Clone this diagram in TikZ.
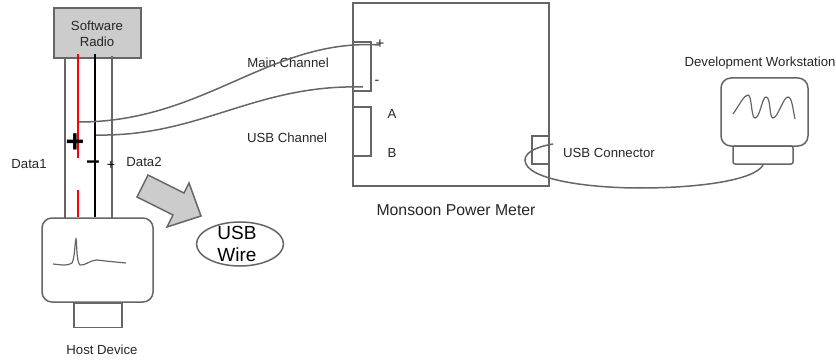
\documentclass[tikz,border=0pt]{standalone}
\usepackage{fontspec}
\setmainfont{Liberation Sans}
\usetikzlibrary{shapes.geometric,positioning,calc}
\definecolor{wiregray}{HTML}{666666}
\definecolor{boxgray}{HTML}{CCCCCC}
\tikzset{
  wire/.style={draw=wiregray, line width=1.5pt},
  panel/.style={rectangle, draw=wiregray, line width=1.5pt, inner sep=0pt},
  screen/.style={panel, rounded corners=10pt, fill=white},
  label/.style={inner sep=0pt, font=\fontsize{13.2}{15.5}\selectfont, align=center, text=black!85},
}
\begin{document}
\begin{tikzpicture}[x=1pt,y=-1pt]
  \useasboundingbox (0,0) rectangle (836,361);

  % radio and its four wires
  \coordinate (graytopA) at (65,58);
  \coordinate (graybotA) at (65,218);
  \coordinate (graytopB) at (112,56);
  \coordinate (graybotB) at (112,218);
  \coordinate (redtop) at (78,54);
  \coordinate (redmid) at (78,158);
  \coordinate (redlow) at (78,190);
  \coordinate (redbot) at (78,217);
  \coordinate (blacktop) at (95,54);
  \coordinate (blackbot) at (95,217);
  \node[panel, fill=boxgray, minimum width=87pt, minimum height=50pt] (radio) at (97.5,33) {};
  \node[label] (radiotext) at (97,34) {Software\\Radio};
  \draw[wire] (graytopA) -- (graybotA);
  \draw[wire] (graytopB) -- (graybotB);
  \draw[red, line width=1.7pt] (redtop) -- (redmid);
  \draw[red, line width=1.7pt] (redlow) -- (redbot);
  \draw[black, line width=1.7pt] (blacktop) -- (blackbot);

  % host device
  \node[screen, minimum width=111pt, minimum height=84pt] (host) at (97.5,260) {};
  \node[panel, minimum width=48pt, minimum height=24pt, below=0pt of host.south, xshift=0.5pt] (hostfoot) {};
  \node[label] (hostlabel) at (102,350) {Host Device};
  \draw[wire, line width=1.2pt] (53,264) .. controls (62,265) and (68,266) .. (72,263)
    .. controls (75,258) and (75,239) .. (76,239)
    .. controls (77,239) and (76,262) .. (80,265)
    .. controls (85,266) and (90,260) .. (97,260)
    .. controls (105,261) and (115,262) .. (126,263);

  % polarity marks
  \node[inner sep=0pt, font=\fontsize{32}{32}\bfseries\selectfont] (bigplus) at (75,143) {+};
  \node[inner sep=0pt, font=\fontsize{24}{24}\bfseries\selectfont] (bigminus) at (93,165) {–};
  \node[inner sep=0pt, font=\fontsize{14}{14}\selectfont] (smallplus) at (111,165) {+};
  \node[label] (dataA) at (29,164) {Data1};
  \node[label] (dataB) at (144,162) {Data2};

  % callout arrow
  \draw[wire, fill=boxgray, line join=miter] (148,175) -- (137,197) -- (173,215) -- (167,227)
    -- (201,216) -- (189,183) -- (184,193) -- cycle;
  \node[ellipse, draw=wiregray, line width=1.5pt, minimum width=87pt, minimum height=44pt, inner sep=0pt] (usbwire) at (240,244) {};
  \node[label, font=\fontsize{19}{22}\selectfont, text=black] (usbwiretext) at (237,244) {USB\\Wire};

  % power meter
  \node[panel, minimum width=196pt, minimum height=183pt] (meter) at (451,94.5) {};
  \node[panel, minimum width=18pt, minimum height=49pt] (mainbox) at (362,66.5) {};
  \node[panel, minimum width=18pt, minimum height=49pt] (usbbox) at (362,131.5) {};
  \node[panel, minimum width=17pt, minimum height=28pt] (connbox) at (540.5,150) {};
  \node[label, font=\fontsize{15}{15}\selectfont] (plusmark) at (380,44) {+};
  \node[label, font=\fontsize{14}{14}\selectfont] (minusmark) at (377,82) {-};
  \node[label] (markA) at (392,114) {A};
  \node[label] (markB) at (392,153) {B};
  \node[label] (mainlabel) at (288,63) {Main Channel};
  \node[label] (usblabel) at (287,138) {USB Channel};
  \node[label, font=\fontsize{15.8}{18}\selectfont] (meterlabel) at (456,210) {Monsoon Power Meter};
  \node[label] (connlabel) at (609,153) {USB Connector};

  % workstation
  \node[screen, minimum width=87pt, minimum height=68pt] (station) at (764.5,112) {};
  \node[panel, rounded corners=2pt, minimum width=60pt, minimum height=18pt] (stationfoot) at (763,155) {};
  \node[label] (stationlabel) at (760,63) {Development Workstation};
  \draw[wire, line width=1.2pt] (733,114) .. controls (740,104) and (744,95) .. (748,95)
    .. controls (752,95) and (751,118) .. (755,118)
    .. controls (760,118) and (762,97) .. (766,97)
    .. controls (771,97) and (769,118) .. (773,118)
    .. controls (778,118) and (783,97) .. (788,97)
    .. controls (792,97) and (793,110) .. (795,119);

  % cables between the boxes
  \coordinate (tapred) at (79,122);
  \coordinate (tapblack) at (96,135);
  \coordinate (mainplus) at (380,45);
  \coordinate (mainminus) at (363,87);
  \coordinate (connend) at (553,144);
  \coordinate (stationend) at (763,165);
  \draw[wire] (tapred) .. controls (205,122) and (270,38) .. (mainplus);
  \draw[wire] (tapblack) .. controls (200,137) and (255,84) .. (mainminus);
  \draw[wire] (connend) .. controls (535,147) and (525,153) .. (525,160)
    .. controls (525,180) and (590,188) .. (640,188)
    .. controls (700,188) and (755,180) .. (stationend);
\end{tikzpicture}
\end{document}
